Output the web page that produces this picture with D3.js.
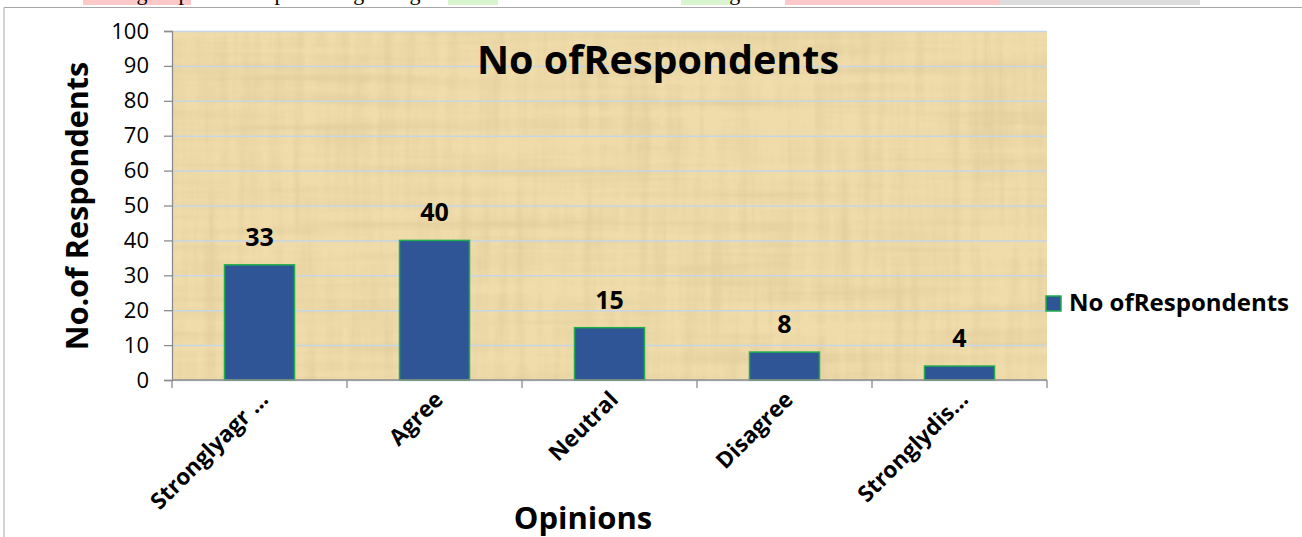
<!DOCTYPE html>
<html>
  <head>
    <meta charset="UTF-8">
    <style>
      body {
        margin: 0;
        background: white;
        font-family: "Open Sans", sans-serif;
        overflow: hidden;
      }

      .tick text {
        font-family: "Open Sans", sans-serif;
      }
    </style>
    <script src="https://d3js.org/d3.v7.min.js"></script>
  </head>

  <body>
    <svg id="chart"></svg>

    <script type="text/javascript">
      let categories = ['Stronglyagr \u2026', 'Agree', 'Neutral', 'Disagree', 'Stronglydis\u2026']
      let respondents = [33, 40, 15, 8, 4]
      let yTicks = [0, 10, 20, 30, 40, 50, 60, 70, 80, 90, 100]
      let seriesName = 'No ofRespondents'
      let chartTitle = 'No ofRespondents'
      let xTitle = 'Opinions'
      let yTitle = 'No.of Respondents'
      let captionText = 'Chart 5 showing respondents opinion regarding GST in relation to the ease of doing business'

      function getConfig() {
        let width = 1302
        let height = 537
        let margin = {top: 31, bottom: 157, left: 172, right: 255}
        let bodyWidth = width - margin.left - margin.right
        let bodyHeight = height - margin.top - margin.bottom
        let container = d3.select('#chart')
          .attr('width', width)
          .attr('height', height)
        return {width, height, margin, bodyWidth, bodyHeight, container}
      }

      function getScales(config) {
        let {bodyWidth, bodyHeight} = config
        let xScale = d3.scaleBand()
          .domain(categories)
          .range([0, bodyWidth])
          .padding(0)
        let yScale = d3.scaleLinear()
          .domain([0, 100])
          .range([bodyHeight, 0])
        return {xScale, yScale}
      }

      function drawFrame(config) {
        let {container, width, height} = config

        // document text above the chart, mostly cut off
        let hl = [
          {x: 83, w: 108, c: '#ffc8c8'},
          {x: 448, w: 50, c: '#d8f5d0'},
          {x: 681, w: 50, c: '#d8f5d0'},
          {x: 785, w: 215, c: '#ffc8c8'},
          {x: 1000, w: 200, c: '#dddddd'}
        ]
        container.selectAll('.hl').data(hl).enter().append('rect')
          .attr('x', d => d.x).attr('y', 0)
          .attr('width', d => d.w).attr('height', 5)
          .attr('fill', d => d.c)
        container.append('text')
          .attr('x', 2).attr('y', 0)
          .style('font-family', '"Liberation Serif", serif')
          .style('font-size', '22px')
          .text(captionText)

        container.append('path')
          .attr('d', `M4,${height} V7.5 H${width}`)
          .attr('fill', 'none')
          .attr('stroke', '#a6a6a6')
          .attr('stroke-width', 1)
      }

      function drawBody(scales, config) {
        let {container, margin, bodyWidth, bodyHeight} = config
        let {xScale, yScale} = scales

        let defs = container.append('defs')
        let filter = defs.append('filter').attr('id', 'papyrus')
          .attr('x', 0).attr('y', 0).attr('width', 1).attr('height', 1)
        filter.append('feTurbulence')
          .attr('type', 'fractalNoise')
          .attr('baseFrequency', '0.004 0.09')
          .attr('numOctaves', 3)
          .attr('seed', 4)
          .attr('result', 'n1')
        filter.append('feTurbulence')
          .attr('type', 'fractalNoise')
          .attr('baseFrequency', '0.09 0.006')
          .attr('numOctaves', 3)
          .attr('seed', 9)
          .attr('result', 'n2')
        filter.append('feBlend').attr('in', 'n1').attr('in2', 'n2').attr('mode', 'multiply').attr('result', 'n')
        filter.append('feColorMatrix')
          .attr('in', 'n')
          .attr('type', 'matrix')
          .attr('values', '0 0 0 0 0.55  0 0 0 0 0.42  0 0 0 0 0.2  -1.4 0 0 0 0.75')

        let body = container.append('g')
          .attr('transform', `translate(${margin.left}, ${margin.top})`)

        body.append('rect')
          .attr('width', bodyWidth).attr('height', bodyHeight)
          .attr('fill', '#f0dcab')
        body.append('rect')
          .attr('width', bodyWidth).attr('height', bodyHeight)
          .attr('fill', '#fff')
          .attr('filter', 'url(#papyrus)')
          .attr('opacity', 0.5)

        // gridlines
        body.append('g')
          .call(d3.axisLeft(yScale).tickValues(yTicks).tickSize(-bodyWidth).tickFormat(''))
          .call(g => g.select('.domain').remove())
          .selectAll('line')
          .attr('stroke', '#c6d6e4')
          .attr('stroke-width', 1.5)

        let barWidth = xScale.bandwidth() * 0.4
        body.selectAll('.bar')
          .data(categories)
          .enter()
          .append('rect')
          .attr('class', 'bar')
          .attr('x', (d, i) => xScale(d) + (xScale.bandwidth() - barWidth) / 2)
          .attr('y', (d, i) => yScale(respondents[i]))
          .attr('width', barWidth)
          .attr('height', (d, i) => yScale(0) - yScale(respondents[i]))
          .attr('fill', '#2f5597')
          .attr('stroke', '#1fae4b')
          .attr('stroke-width', 1.5)

        body.selectAll('.label')
          .data(categories)
          .enter()
          .append('text')
          .attr('x', d => xScale(d) + xScale.bandwidth() / 2)
          .attr('y', (d, i) => yScale(respondents[i]) - 19)
          .attr('text-anchor', 'middle')
          .style('font-size', '25px')
          .style('font-weight', 'bold')
          .text((d, i) => respondents[i])

        // title over the plot
        body.append('text')
          .attr('x', 486)
          .attr('y', 43)
          .attr('text-anchor', 'middle')
          .style('font-size', '39.5px')
          .style('font-weight', 'bold')
          .text(chartTitle)
      }

      function drawAxes(scales, config) {
        let {container, margin, bodyHeight} = config
        let {xScale, yScale} = scales

        let axisY = container.append('g')
          .attr('transform', `translate(${margin.left}, ${margin.top})`)
          .call(d3.axisLeft(yScale).tickValues(yTicks).tickSize(8).tickPadding(15))
        axisY.selectAll('line, path').attr('stroke', '#8c8c8c').attr('stroke-width', 1.3)
        axisY.selectAll('text').style('font-size', '22px').attr('fill', '#000')

        let axisX = container.append('g')
          .attr('transform', `translate(${margin.left}, ${margin.top + bodyHeight})`)
        axisX.append('line')
          .attr('x1', 0).attr('x2', xScale.range()[1])
          .attr('stroke', '#8c8c8c').attr('stroke-width', 1.3)
        let bounds = categories.map(d => xScale(d)).concat([xScale.range()[1]])
        axisX.selectAll('.xtick')
          .data(bounds)
          .enter()
          .append('line')
          .attr('x1', d => d).attr('x2', d => d)
          .attr('y1', 0).attr('y2', 8)
          .attr('stroke', '#8c8c8c').attr('stroke-width', 1.3)
        axisX.selectAll('.xlabel')
          .data(categories)
          .enter()
          .append('text')
          .attr('transform', d => `translate(${xScale(d) + xScale.bandwidth() / 2 + 10}, 21) rotate(-45)`)
          .attr('text-anchor', 'end')
          .style('font-size', '22.5px')
          .style('font-weight', 'bold')
          .text(d => d)

        container.append('text')
          .attr('x', 583)
          .attr('y', 529)
          .attr('text-anchor', 'middle')
          .style('font-size', '31px')
          .style('font-weight', 'bold')
          .text(xTitle)

        container.append('text')
          .attr('transform', 'translate(88, 206) rotate(-90)')
          .attr('text-anchor', 'middle')
          .style('font-size', '30.5px')
          .style('font-weight', 'bold')
          .text(yTitle)
      }

      function drawLegend(config) {
        let {container} = config
        let legend = container.append('g')
          .attr('transform', 'translate(1046, 296)')
        legend.append('rect')
          .attr('width', 15).attr('height', 15)
          .attr('fill', '#2f5597')
          .attr('stroke', '#1fae4b')
          .attr('stroke-width', 1.5)
        legend.append('text')
          .attr('x', 23).attr('y', 15)
          .style('font-size', '24px')
          .style('font-weight', 'bold')
          .text(seriesName)
      }

      function drawChart() {
        let config = getConfig()
        let scales = getScales(config)
        drawFrame(config)
        drawBody(scales, config)
        drawAxes(scales, config)
        drawLegend(config)
      }

      drawChart()
    </script>
  </body>
</html>
